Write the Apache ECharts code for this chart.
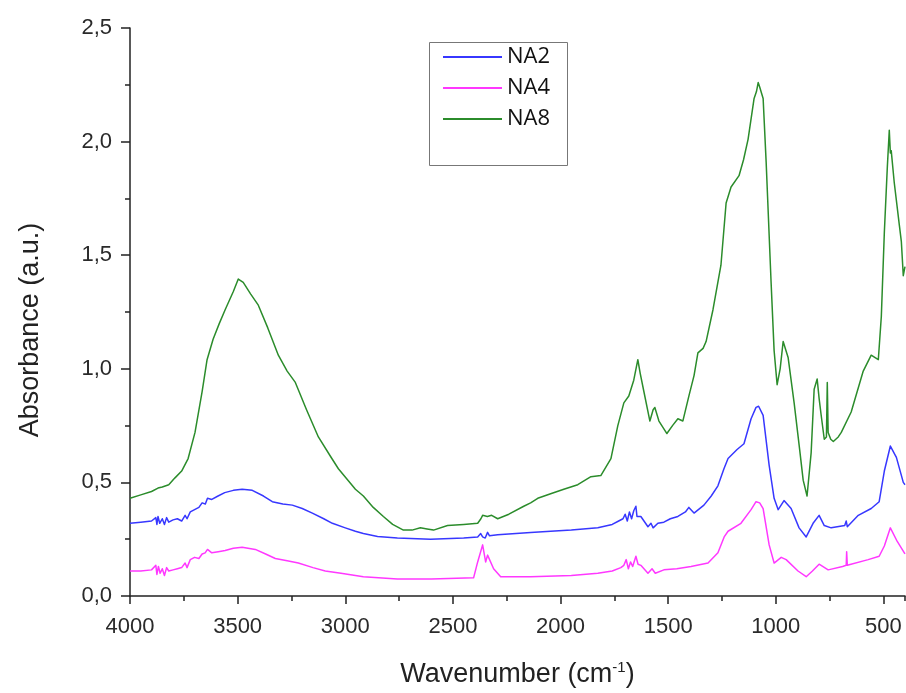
<!DOCTYPE html>
<html><head><meta charset="utf-8">
<script src="https://cdn.jsdelivr.net/npm/echarts@6/dist/echarts.min.js"></script>
<style>html,body{margin:0;padding:0;background:#fff}#c{width:906px;height:693px}</style>
</head><body><div id="c"></div>
<script>
const seriesNames = ['NA2', 'NA4', 'NA8'];
const xTicks = [4000, 3500, 3000, 2500, 2000, 1500, 1000, 500];
const yTicks = [0, 0.5, 1.0, 1.5, 2.0, 2.5];

const na2Wave = [4000,3950,3900,3880,3875,3870,3862,3850,3840,3830,3820,3800,3780,3760,3744,3735,3720,3700,3680,3665,3650,3640,3620,3591,3560,3520,3479,3432,3380,3339,3290,3246,3200,3153,3100,3060,3000,2953,2916,2850,2758,2604,2450,2385,2371,2362,2350,2339,2330,2292,2139,2046,1950,1827,1760,1730,1710,1700,1690,1680,1670,1660,1650,1645,1627,1594,1580,1570,1548,1520,1490,1455,1420,1404,1380,1334,1300,1269,1241,1222,1180,1148,1115,1092,1080,1059,1031,1008,989,962,929,892,859,827,799,775,743,680,673,668,617,557,520,496,468,440,408,400];
const na2Abs  = [0.32,0.325,0.33,0.345,0.315,0.35,0.32,0.34,0.315,0.345,0.325,0.335,0.34,0.33,0.355,0.34,0.37,0.38,0.39,0.41,0.405,0.43,0.425,0.44,0.455,0.465,0.47,0.465,0.44,0.415,0.405,0.40,0.385,0.365,0.34,0.32,0.30,0.285,0.275,0.262,0.255,0.25,0.255,0.26,0.275,0.26,0.255,0.28,0.265,0.27,0.28,0.285,0.29,0.30,0.315,0.33,0.34,0.36,0.33,0.37,0.34,0.375,0.395,0.35,0.35,0.305,0.32,0.30,0.32,0.325,0.34,0.35,0.37,0.39,0.365,0.40,0.44,0.485,0.56,0.605,0.645,0.67,0.78,0.83,0.835,0.795,0.575,0.43,0.38,0.42,0.385,0.30,0.26,0.32,0.355,0.31,0.30,0.31,0.33,0.305,0.355,0.385,0.415,0.55,0.66,0.61,0.50,0.49];

const na4Wave = [4000,3950,3900,3880,3875,3868,3860,3850,3840,3830,3820,3800,3780,3760,3744,3735,3720,3700,3680,3665,3651,3640,3620,3590,3558,3520,3479,3418,3370,3325,3270,3218,3150,3093,3020,2953,2916,2758,2600,2404,2385,2362,2348,2339,2311,2278,2139,1950,1827,1760,1720,1706,1695,1685,1675,1665,1650,1640,1627,1594,1575,1560,1520,1460,1394,1315,1269,1240,1222,1162,1115,1092,1075,1059,1031,1008,975,952,897,859,830,799,757,690,673,671,668,571,520,496,468,436,403,400];
const na4Abs  = [0.11,0.11,0.115,0.135,0.095,0.13,0.10,0.12,0.09,0.125,0.11,0.115,0.12,0.125,0.145,0.125,0.16,0.17,0.165,0.185,0.19,0.205,0.19,0.195,0.20,0.21,0.215,0.205,0.185,0.165,0.155,0.145,0.125,0.11,0.10,0.09,0.085,0.075,0.075,0.08,0.15,0.225,0.15,0.18,0.12,0.085,0.085,0.09,0.10,0.11,0.125,0.135,0.16,0.12,0.15,0.13,0.175,0.14,0.135,0.10,0.12,0.10,0.115,0.12,0.13,0.145,0.19,0.26,0.285,0.32,0.38,0.415,0.41,0.385,0.225,0.145,0.17,0.16,0.11,0.085,0.11,0.14,0.115,0.13,0.135,0.195,0.135,0.16,0.175,0.22,0.30,0.24,0.19,0.185];

const na8Wave = [4000,3950,3900,3870,3850,3820,3791,3760,3730,3698,3665,3642,3614,3585,3558,3520,3497,3474,3440,3404,3360,3311,3270,3232,3180,3125,3069,3032,2953,2916,2870,2823,2780,2730,2690,2651,2620,2590,2525,2450,2385,2370,2362,2340,2320,2292,2240,2171,2139,2106,2046,1985,1920,1859,1813,1766,1734,1706,1683,1660,1641,1630,1613,1585,1570,1562,1543,1506,1480,1455,1432,1404,1380,1362,1338,1324,1292,1255,1231,1208,1171,1150,1129,1101,1090,1082,1075,1059,1045,1022,1008,994,980,966,943,915,890,873,855,836,822,808,799,790,775,765,761,757,745,733,710,696,650,594,557,524,510,496,482,473,468,464,450,426,417,408,400];
const na8Abs  = [0.43,0.445,0.46,0.475,0.48,0.49,0.52,0.55,0.605,0.72,0.90,1.04,1.13,1.20,1.26,1.34,1.395,1.38,1.33,1.28,1.18,1.06,0.99,0.94,0.82,0.70,0.615,0.56,0.47,0.44,0.39,0.35,0.315,0.29,0.29,0.30,0.295,0.29,0.31,0.315,0.32,0.34,0.355,0.35,0.355,0.34,0.36,0.395,0.41,0.43,0.45,0.47,0.49,0.525,0.53,0.605,0.75,0.85,0.88,0.95,1.04,0.98,0.90,0.77,0.82,0.83,0.77,0.715,0.75,0.78,0.77,0.88,0.97,1.07,1.09,1.12,1.26,1.456,1.73,1.80,1.85,1.92,2.01,2.19,2.22,2.26,2.24,2.19,1.91,1.38,1.08,0.93,1.0,1.12,1.05,0.85,0.65,0.51,0.44,0.63,0.91,0.955,0.87,0.80,0.69,0.70,0.94,0.72,0.69,0.68,0.70,0.72,0.81,0.99,1.06,1.04,1.23,1.60,1.89,2.05,1.95,1.96,1.82,1.63,1.56,1.41,1.45];

const colors = ['#3737ff', '#ff38ff', '#2b8c2b'];
const waves = [na2Wave, na4Wave, na8Wave];
const absVals = [na2Abs, na4Abs, na8Abs];

const chart = echarts.init(document.getElementById('c'), null, {renderer: 'canvas'});
const font = 'Liberation Sans, Arial, sans-serif';
const axisColor = '#222';

const series = seriesNames.map((n, i) => ({
  name: n, type: 'line', symbol: 'none', showSymbol: false,
  data: waves[i].map((w, k) => [-w, absVals[i][k]]),
  lineStyle: {color: colors[i], width: 1.5, join: 'round'},
  itemStyle: {color: colors[i]},
  emphasis: {disabled: true}, animation: false
}));

chart.setOption({
  animation: false,
  backgroundColor: '#fff',
  grid: {left: 130, right: 1, top: 28, bottom: 95, containLabel: false},
  legend: {
    data: seriesNames.map(n => ({name: n, icon: 'rect'})), orient: 'vertical', left: 429, top: 42,
    padding: [4, 9, 35, 14], itemWidth: 59, itemHeight: 2, itemGap: 9,
    textStyle: {fontFamily: 'Open Sans, DejaVu Sans, sans-serif', fontSize: 22, color: '#111', lineHeight: 22}
  },
  graphic: [{type: 'rect', shape: {x: 429.5, y: 42.5, width: 138, height: 123}, style: {fill: 'none', stroke: '#777', lineWidth: 1}, silent: true}],
  xAxis: [{
    type: 'value', min: -4000, max: -400, interval: 500,
    name: 'Wavenumber (cm{sup|-1})', nameLocation: 'middle', nameGap: 64,
    nameTextStyle: {fontFamily: font, fontSize: 27, color: axisColor, rich: {sup: {fontFamily: font, fontSize: 15, verticalAlign: 'top', padding: [0, 0, 14, 0], color: axisColor}}},
    axisLine: {show: true, onZero: false, lineStyle: {color: axisColor, width: 1.5}},
    axisTick: {show: true, inside: false, length: 8, lineStyle: {color: axisColor, width: 1.5}},
    axisLabel: {fontFamily: font, fontSize: 22, color: '#2a2a2a', margin: 20, showMaxLabel: false,
      formatter: v => (xTicks.indexOf(-v) >= 0 ? String(-v) : '')},
    splitLine: {show: false}
  }, {
    type: 'value', min: -4000, max: -400, interval: 250, position: 'bottom', gridIndex: 0,
    axisLine: {show: false}, axisLabel: {show: false}, splitLine: {show: false},
    axisTick: {show: true, inside: false, length: 5, lineStyle: {color: axisColor, width: 1.5}}
  }],
  yAxis: {
    type: 'value', min: 0, max: 2.5, interval: 0.5,
    name: 'Absorbance (a.u.)', nameLocation: 'middle', nameGap: 86,
    nameTextStyle: {fontFamily: font, fontSize: 27, color: axisColor, padding: [0, 36, 0, 0]},
    axisLine: {show: true, lineStyle: {color: axisColor, width: 1.5}},
    axisTick: {show: true, inside: false, length: 9, lineStyle: {color: axisColor, width: 1.5}},
    minorTick: {show: true, splitNumber: 2, length: 5, lineStyle: {color: axisColor, width: 1.5}},
    axisLabel: {fontFamily: font, fontSize: 22, color: '#2a2a2a', margin: 18,
      formatter: v => v.toFixed(1).replace('.', ',')},
    splitLine: {show: false}
  },
  series: series
});
</script></body></html>
